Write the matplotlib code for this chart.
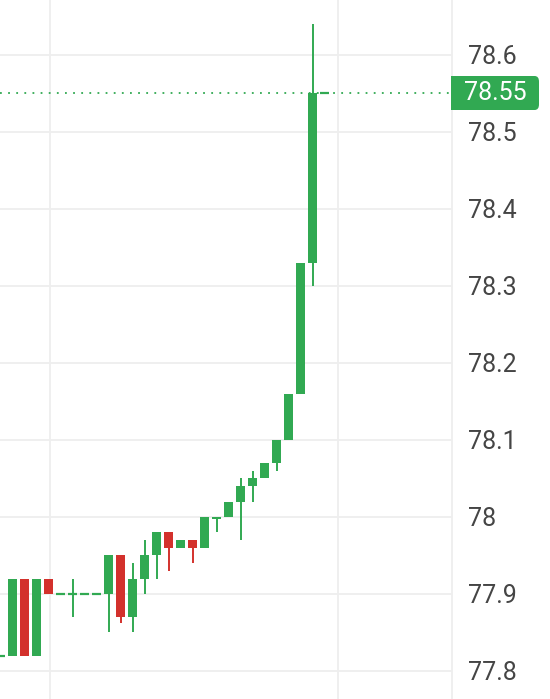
import matplotlib.pyplot as plt
from matplotlib.patches import FancyBboxPatch, Rectangle
from matplotlib.ticker import FixedLocator, FixedFormatter

plt.rcParams['font.family'] = ['Roboto', 'DejaVu Sans']

# candle data (oldest -> newest)
opens = [77.82, 77.82, 77.92, 77.82, 77.92, 77.90, 77.90, 77.90, 77.90, 77.90,
         77.95, 77.87, 77.92, 77.95, 77.98, 77.96, 77.97, 77.96, 77.998, 78.00,
         78.02, 78.04, 78.05, 78.07, 78.10, 78.16, 78.33, 78.55]
closes = [77.82, 77.92, 77.82, 77.92, 77.90, 77.90, 77.90, 77.90, 77.90, 77.95,
          77.87, 77.92, 77.95, 77.98, 77.96, 77.97, 77.96, 78.00, 78.00, 78.02,
          78.04, 78.05, 78.07, 78.10, 78.16, 78.33, 78.55, 78.55]
highs = [77.82, 77.92, 77.92, 77.92, 77.92, 77.90, 77.92, 77.90, 77.90, 77.95,
         77.95, 77.94, 77.97, 77.98, 77.98, 77.97, 77.97, 78.00, 78.00, 78.02,
         78.05, 78.06, 78.07, 78.10, 78.16, 78.33, 78.64, 78.55]
lows = [77.82, 77.82, 77.82, 77.82, 77.90, 77.90, 77.87, 77.90, 77.90, 77.85,
        77.862, 77.85, 77.90, 77.92, 77.93, 77.96, 77.94, 77.96, 77.98, 78.00,
        77.97, 78.02, 78.05, 78.06, 78.10, 78.16, 78.30, 78.55]

y_ticks = [77.8, 77.9, 78.0, 78.1, 78.2, 78.3, 78.4, 78.5, 78.6]
y_labels = ['77.8', '77.9', '78', '78.1', '78.2', '78.3', '78.4', '78.5', '78.6']
last_price = 78.55

GREEN = '#31a952'
RED = '#d3312c'
GRID = '#eeeeee'

fig = plt.figure(figsize=(5.5, 6.99), dpi=100)
ax = fig.add_axes([0, 0, 452 / 550, 1])

width = 0.75
for i in range(len(opens)):
    o, c, h, l = opens[i], closes[i], highs[i], lows[i]
    col = GREEN if c >= o else RED
    ax.vlines(i, l, h, color=col, linewidth=1.4, zorder=3)
    if abs(c - o) < 1e-6:
        ax.hlines(o, i - width / 2, i + width / 2, color=col, linewidth=1.6, zorder=3)
    else:
        ax.bar(i, abs(c - o), bottom=min(o, c), width=width, color=col,
               linewidth=0, zorder=3)

# current price line
ax.axhline(last_price, color=GREEN, linestyle=(0, (1, 3.5)), linewidth=1.3, zorder=2)

ax.set_xlim(-1 / 12, 451 / 12)
ax.set_ylim(77.7636, 78.6714)

ax.set_xticks([49 / 12, 337 / 12])
ax.tick_params(axis='x', length=0, labelbottom=False)
ax.yaxis.tick_right()
ax.yaxis.set_major_locator(FixedLocator(y_ticks))
ax.yaxis.set_major_formatter(FixedFormatter(y_labels))
ax.tick_params(axis='y', length=0, pad=11.5, labelsize=18, labelcolor='#454545')
ax.grid(True, color=GRID, linewidth=1.3, zorder=0)
ax.set_axisbelow(True)

for s in ['top', 'left', 'bottom']:
    ax.spines[s].set_visible(False)
ax.spines['right'].set_color(GRID)
ax.spines['right'].set_linewidth(1.3)

# price tag on the right axis
W, H = 550, 699
bx0, bx1, by0, by1 = 451, 539, 699 - 110, 699 - 76
tag = FancyBboxPatch((bx0 / W, by0 / H), (bx1 - bx0) / W, (by1 - by0) / H,
                     boxstyle='round,pad=0,rounding_size=0.008',
                     transform=fig.transFigure, facecolor=GREEN, edgecolor='none',
                     zorder=5)
fig.patches.append(tag)
fig.patches.append(Rectangle((bx0 / W, by0 / H), 10 / W, (by1 - by0) / H,
                             transform=fig.transFigure, facecolor=GREEN,
                             edgecolor='none', zorder=5))
fig.text((bx0 + bx1) / 2 / W, (by0 + by1) / 2 / H, f'{last_price:.2f}',
         color='white', fontsize=18, ha='center', va='center', zorder=6)

fig.savefig('out.png', dpi=100, facecolor='white')
